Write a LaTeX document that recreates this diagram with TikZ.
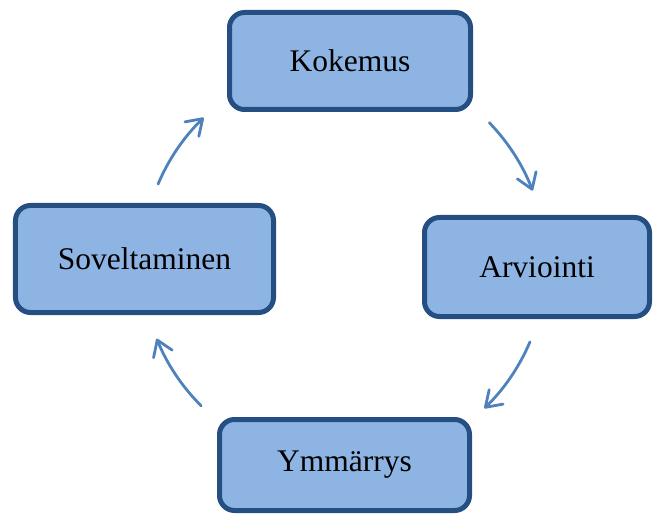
\documentclass[tikz,border=0pt]{standalone}
\usepackage{fontspec}
\setmainfont{Liberation Serif}
\usetikzlibrary{arrows.meta,calc}
\definecolor{boxfill}{HTML}{8EB4E3}
\definecolor{boxline}{HTML}{254E82}
\definecolor{arrowcol}{HTML}{4F81BD}
\begin{document}
\begin{tikzpicture}[x=1bp,y=1bp,
  stagebox/.style={draw=boxline, fill=boxfill, line width=5bp,
    rounded corners=15bp, inner sep=0pt, align=center,
    font=\fontsize{31.5bp}{37bp}\selectfont},
  cyclearrow/.style={draw=arrowcol, line width=2.8bp, line cap=round,
    -{Straight Barb[length=15bp,width=20bp,line width=2.8bp,round]}}]
\useasboundingbox (0,0) rectangle (653,-515);

% the four stages of the cycle
\node[stagebox, minimum width=241bp, minimum height=97bp] (kok) at (350,-61) {Kokemus};
\node[stagebox, minimum width=225bp, minimum height=99bp] (arv) at (537,-267) {Arviointi};
\node[stagebox, minimum width=250bp, minimum height=91bp] (ymm) at (344.5,-465) {Ymmärrys};
\node[stagebox, minimum width=258bp, minimum height=107bp] (sov) at (144.5,-259) {Soveltaminen};

% arcs between the stages, all on one circle
\coordinate (mid) at (344,-263);
\coordinate (a1) at ($(mid)+(44:202)$);
\coordinate (a2) at ($(mid)+(-23:202)$);
\coordinate (a3) at ($(mid)+(-135:202)$);
\coordinate (a4) at ($(mid)+(157:202)$);
\draw[cyclearrow] (a1) arc[start angle=44, end angle=21, radius=202];
\draw[cyclearrow] (a2) arc[start angle=-23, end angle=-46, radius=202];
\draw[cyclearrow] (a3) arc[start angle=-135, end angle=-158, radius=202];
\draw[cyclearrow] (a4) arc[start angle=157, end angle=134, radius=202];
\end{tikzpicture}
\end{document}
